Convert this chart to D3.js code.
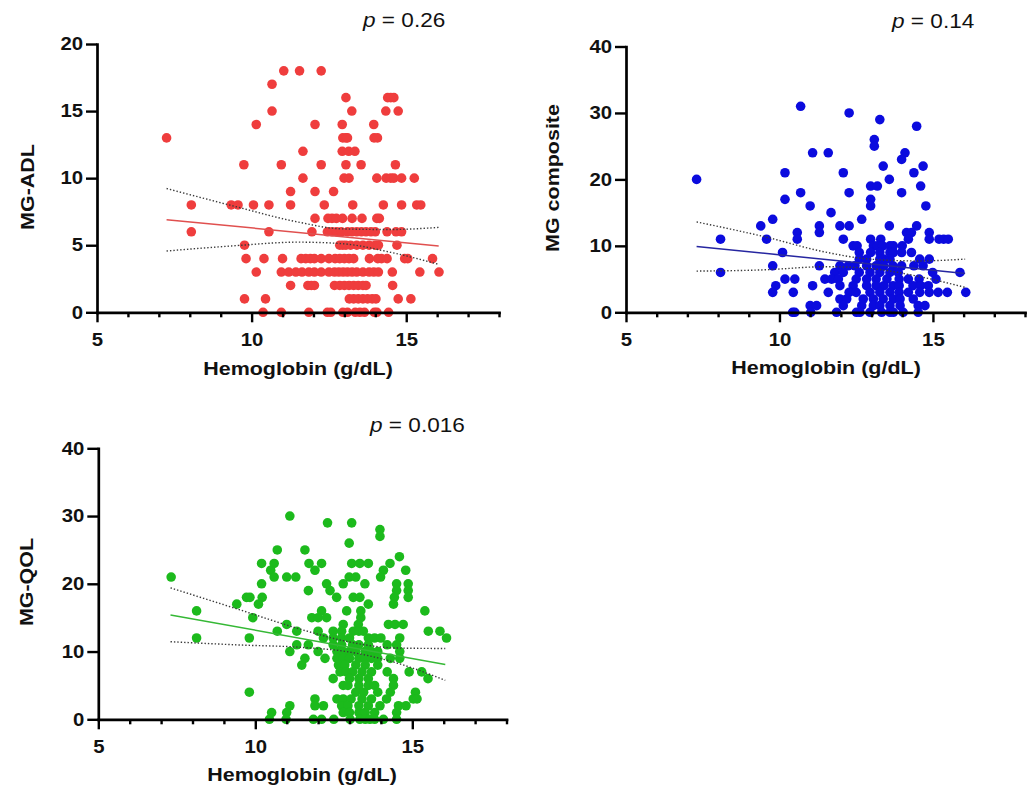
<!DOCTYPE html>
<html>
<head>
<meta charset="utf-8">
<script src="https://cdn.jsdelivr.net/npm/d3@7"></script>
<style>
  body { margin: 0; background: #fff; }
  svg { display: block; font-family: "Liberation Sans", Arial, sans-serif; }
</style>
</head>
<body>
<svg width="1032" height="788"></svg>
<script>
// x axis is the same for all three panels
var hbDomain = [5, 18];
var hbMajorTicks = [5, 10, 15];
var hbMinorTicks = [6, 7, 8, 9, 11, 12, 13, 14, 16, 17, 18];

// each row: [score, [hemoglobin values]]
var adlRows = [
  [18, [11.04, 11.55, 12.25]],
  [17, [10.66]],
  [16, [13.05, 14.4, 14.5, 14.6]],
  [15, [10.66, 13.24, 14.34, 14.74]],
  [14, [10.15, 12.05, 12.93, 13.95]],
  [13, [7.25, 12.95, 13.05, 13.1, 13.96, 14.07]],
  [12, [11.66, 12.93, 13.14, 13.34]],
  [11, [9.75, 10.96, 12.25, 13.05, 13.54, 14.65]],
  [10, [11.66, 12.99, 13.15, 14.05, 14.35, 14.5, 14.6, 14.85, 15.26]],
  [9, [11.26, 12.05, 12.65]],
  [8, [8.05, 9.34, 9.56, 10.06, 10.56, 11.26, 12.35, 13.27, 14.26, 14.85, 15.34, 15.47]],
  [7, [12.05, 12.47, 12.6, 12.74, 12.94, 13.25, 13.57, 14.05, 14.13]],
  [6, [8.05, 10.56, 11.95, 12.45, 12.6, 12.75, 12.9, 13.1, 13.25, 13.4, 13.55, 13.7, 13.86, 14.0, 14.38, 14.67, 14.85]],
  [5, [9.77, 12.85, 12.95, 13.05, 13.2, 13.4, 13.6, 13.8, 14.0, 14.1, 14.7]],
  [4, [9.82, 10.4, 11.0, 11.6, 11.75, 11.9, 12.03, 12.25, 12.5, 12.7, 12.85, 13.0, 13.15, 13.3, 13.81, 14.08, 14.2, 14.38, 14.95, 15.05, 15.85]],
  [3, [10.15, 10.96, 11.2, 11.43, 11.63, 11.85, 12.03, 12.25, 12.5, 12.68, 12.82, 12.96, 13.1, 13.25, 13.4, 13.6, 13.8, 13.95, 14.1, 14.55, 15.44, 16.06]],
  [2, [11.26, 11.82, 11.93, 12.03, 12.68, 12.85, 13.0, 13.15, 13.3, 13.45, 13.6, 13.7, 14.56]],
  [1, [9.77, 10.45, 13.16, 13.3, 13.45, 13.6, 13.75, 13.9, 14.02, 14.74, 15.15]],
  [0, [10.37, 10.96, 11.85, 12.45, 12.56, 12.95, 13.1, 13.35, 13.5, 13.65, 13.97, 14.05, 14.43]]
];

var compositeRows = [
  [31, [10.69]],
  [30, [12.27]],
  [29, [13.27]],
  [28, [14.47]],
  [26, [13.09]],
  [25, [13.09]],
  [24, [11.08, 11.59, 14.09]],
  [23, [13.98]],
  [22, [13.38, 14.68]],
  [21, [10.18, 12.08, 14.38]],
  [20, [7.3, 13.58]],
  [19, [12.97, 13.19, 14.6]],
  [18, [10.69, 12.27, 13.98]],
  [17, [10.18, 12.97]],
  [16, [11.0, 12.97, 14.77]],
  [15, [11.68]],
  [14, [9.78, 12.68]],
  [13, [9.39, 11.3, 11.97, 12.27, 13.58, 14.47]],
  [12, [10.58, 11.3, 14.14, 14.3, 14.88]],
  [11, [8.08, 9.58, 10.58, 12.08, 12.97, 13.3, 14.2, 14.88, 15.2, 15.35, 15.5]],
  [10, [12.4, 12.53, 13.06, 13.19, 13.36, 13.6, 13.71, 14.0]],
  [9, [10.1, 12.6, 12.97, 13.27, 13.6, 13.71, 13.98, 14.3]],
  [8, [12.6, 12.84, 13.27, 13.4, 13.6, 14.57, 14.88]],
  [7, [9.78, 11.3, 11.97, 12.24, 12.46, 12.84, 13.15, 13.4, 13.7, 13.98, 14.38, 14.68]],
  [6, [8.08, 11.8, 12.08, 12.6, 12.95, 13.27, 13.6, 13.87, 14.99, 15.88]],
  [5, [10.18, 10.5, 11.48, 11.7, 11.92, 12.5, 12.84, 13.15, 13.5, 13.9, 14.2, 14.55, 15.1]],
  [4, [9.88, 11.08, 11.97, 12.4, 12.84, 13.15, 13.4, 13.7, 13.9, 14.35, 14.6, 14.85]],
  [3, [9.78, 10.45, 11.59, 12.27, 12.5, 12.95, 13.27, 13.6, 13.9, 14.2, 14.57, 14.88, 15.17, 15.47, 16.07]],
  [2, [11.97, 12.19, 12.73, 13.06, 13.38, 13.71, 13.93, 14.36]],
  [1, [11.0, 11.21, 12.08, 12.68, 13.06, 13.27, 13.6, 13.93, 14.52, 14.74]],
  [0, [10.43, 10.5, 11.02, 11.86, 12.51, 12.62, 12.95, 13.33, 13.6, 13.71, 14.03, 14.52]]
];

var qolRows = [
  [30, [11.1]],
  [29, [12.3, 13.07]],
  [28, [13.97]],
  [27, [13.97]],
  [26, [12.99]],
  [25, [10.7, 11.58]],
  [24, [14.59]],
  [23, [10.2, 10.6, 11.71, 12.11, 13.07, 13.33, 13.6, 14.29]],
  [22, [10.49, 11.9, 14.08, 14.79]],
  [21, [7.32, 10.6, 11.0, 11.29, 12.99, 13.2, 13.99]],
  [20, [10.2, 12.27, 12.8, 13.49, 14.5, 14.87]],
  [19, [11.69, 12.38, 14.5, 14.87]],
  [18, [9.72, 9.83, 10.22, 12.59, 13.12, 13.33, 14.43, 14.87]],
  [17, [9.41, 10.1, 13.6, 14.4]],
  [16, [8.13, 12.11, 12.91, 13.36, 15.4]],
  [15, [9.92, 11.8, 12.0, 12.27, 13.36]],
  [14, [11.0, 12.8, 13.28, 14.24, 14.45, 14.71]],
  [13, [10.7, 11.32, 12.0, 12.48, 12.75, 13.12, 13.3, 13.44, 15.51, 15.88]],
  [12, [8.13, 9.81, 12.17, 12.48, 12.75, 13.0, 13.6, 13.8, 14.0, 14.6, 16.09]],
  [11, [11.32, 11.69, 12.48, 12.75, 13.1, 13.3, 13.6, 14.2, 14.5]],
  [10, [11.1, 12.0, 12.6, 12.8, 13.0, 13.2, 13.5, 13.7, 13.9, 14.6]],
  [9, [11.58, 12.22, 12.6, 12.8, 13.0, 13.3, 13.5, 13.7, 13.9, 14.3, 14.6]],
  [8, [11.48, 12.65, 12.85, 13.2, 13.5, 13.9]],
  [7, [12.7, 12.9, 13.1, 13.4, 13.7, 14.2, 14.9, 15.3]],
  [6, [12.48, 13.0, 13.3, 13.6, 14.4, 15.5]],
  [5, [12.8, 12.95, 13.3, 13.6, 13.8, 14.4]],
  [4, [9.81, 13.2, 13.45, 13.9, 14.3, 15.1]],
  [3, [11.9, 12.6, 12.8, 13.05, 13.4, 13.7, 14.18, 15.03, 15.15]],
  [2, [11.1, 11.9, 12.17, 12.75, 12.95, 13.3, 13.6, 13.97, 14.56, 14.8]],
  [1, [10.52, 11.0, 12.8, 13.0, 13.3, 13.5, 13.8, 14.5]],
  [0, [10.45, 10.98, 11.85, 12.11, 12.5, 13.02, 13.33, 13.5, 13.65, 13.8, 14.08, 14.5]]
];

// regression lines and 95% bands as [hb, score]
var adlFit = [[7.25, 6.9], [16.05, 4.95]];
var adlUpper = [[7.25, 9.23], [9.5, 7.87], [11.5, 6.73], [12.9, 6.22], [14.5, 6.17], [16.05, 6.33]];
var adlLower = [[7.25, 4.57], [9.5, 4.97], [11.5, 5.23], [12.9, 5.12], [14.5, 4.47], [16.05, 3.57]];

var compositeFit = [[7.3, 9.9], [16.05, 5.85]];
var compositeUpper = [[7.3, 13.6], [9.5, 11.39], [11.5, 9.06], [12.9, 8.02], [14.5, 7.73], [16.05, 8.0]];
var compositeLower = [[7.3, 6.2], [9.5, 6.39], [11.5, 6.86], [12.9, 6.62], [14.5, 5.43], [16.05, 3.75]];

var qolFit = [[7.3, 15.4], [16.05, 8.1]];
var qolUpper = [[7.3, 19.4], [9.5, 16.17], [11.5, 13.21], [12.9, 11.5], [14.5, 10.52], [16.05, 10.45]];
var qolLower = [[7.3, 11.45], [9.5, 10.97], [11.5, 10.61], [12.9, 10.0], [14.5, 8.32], [16.05, 5.75]];

var adlTicks = [0, 5, 10, 15, 20];
var scoreTicks = [0, 10, 20, 30, 40];

var pValues = ["0.26", "0.14", "0.016"];

var svg = d3.select("svg");
var stretch = 1.13;

var panels = [
  { rows: adlRows, yMax: 20, yTicks: adlTicks, fit: adlFit, upper: adlUpper, lower: adlLower,
    dot: "#ef3d3d", line: "#e0504f", title: "MG-ADL", p: pValues[0],
    left: 97, right: 499, top: 44, bottom: 312.3,
    yTitle: [27, 187], xTitle: [298, 375], pPos: [363, 26.5] },
  { rows: compositeRows, yMax: 40, yTicks: scoreTicks, fit: compositeFit, upper: compositeUpper, lower: compositeLower,
    dot: "#0b0bde", line: "#2626a0", title: "MG composite", p: pValues[1],
    left: 626, right: 1025, top: 46.5, bottom: 312.3,
    yTitle: [552, 178], xTitle: [826, 374], pPos: [892, 28] },
  { rows: qolRows, yMax: 40, yTicks: scoreTicks, fit: qolFit, upper: qolUpper, lower: qolLower,
    dot: "#1cba1c", line: "#35b835", title: "MG-QOL", p: pValues[2],
    left: 98.3, right: 506.5, top: 448.3, bottom: 719.3,
    yTitle: [26, 582], xTitle: [302, 781], pPos: [370, 431.5] }
];

panels.forEach(drawPanel);

function drawPanel(p) {
  var x = d3.scaleLinear().domain(hbDomain).range([p.left, p.right]);
  var y = d3.scaleLinear().domain([0, p.yMax]).range([p.bottom, p.top]);
  var g = svg.append("g");

  var pts = p.rows.flatMap(function(r) {
    return r[1].map(function(hb) { return { hb: hb, score: r[0] }; });
  });

  g.append("g").selectAll("circle")
    .data(pts)
    .join("circle")
      .attr("cx", function(d) { return x(d.hb); })
      .attr("cy", function(d) { return y(d.score); })
      .attr("r", 4.8)
      .attr("fill", p.dot);

  var straight = d3.line().x(function(d) { return x(d[0]); }).y(function(d) { return y(d[1]); });
  var smooth = d3.line().x(function(d) { return x(d[0]); }).y(function(d) { return y(d[1]); })
    .curve(d3.curveMonotoneX);

  [p.upper, p.lower].forEach(function(band) {
    g.append("path")
      .attr("d", smooth(band))
      .attr("fill", "none")
      .attr("stroke", "#3a3a3a")
      .attr("stroke-width", 1.4)
      .attr("stroke-dasharray", "1.4,2");
  });

  g.append("path")
    .attr("d", straight(p.fit))
    .attr("fill", "none")
    .attr("stroke", p.line)
    .attr("stroke-width", 1.5);

  // axes
  var yAxis = g.append("g")
    .attr("transform", "translate(" + p.left + ",0)")
    .call(d3.axisLeft(y).tickValues(p.yTicks).tickSize(11).tickSizeOuter(0));
  yAxis.selectAll("text").attr("x", -14 / stretch).attr("transform", "scale(" + stretch + ",1)");

  var xMinor = g.append("g")
    .attr("transform", "translate(0," + p.bottom + ")")
    .call(d3.axisBottom(x).tickValues(hbMinorTicks).tickSize(5).tickFormat(""));
  xMinor.select(".domain").remove();

  var xAxis = g.append("g")
    .attr("transform", "translate(0," + p.bottom + ")")
    .call(d3.axisBottom(x).tickValues(hbMajorTicks).tickSize(10).tickPadding(11).tickSizeOuter(0));
  xAxis.selectAll("text").attr("transform", "scale(" + stretch + ",1)");

  [yAxis, xAxis, xMinor].forEach(function(a) {
    a.attr("font-family", null).attr("font-size", null);
    a.select(".domain").attr("stroke", "#000").attr("stroke-width", 2.7).attr("stroke-linecap", "square");
    a.selectAll(".tick line").attr("stroke", "#000").attr("stroke-width", 2.4);
    a.selectAll("text").attr("fill", "#111").attr("font-size", 18).attr("font-weight", "bold");
  });

  // titles
  g.append("text")
    .attr("transform", "translate(" + p.xTitle[0] + "," + p.xTitle[1] + ") scale(" + stretch + ",1)")
    .attr("text-anchor", "middle")
    .attr("font-size", 19)
    .attr("font-weight", "bold")
    .attr("fill", "#111")
    .text("Hemoglobin (g/dL)");

  g.append("text")
    .attr("transform", "translate(" + p.yTitle[0] + "," + p.yTitle[1] + ") rotate(-90) scale(" + stretch + ",1)")
    .attr("text-anchor", "middle")
    .attr("dy", "0.36em")
    .attr("font-size", 19)
    .attr("font-weight", "bold")
    .attr("fill", "#111")
    .text(p.title);

  var pt = g.append("text")
    .attr("transform", "translate(" + p.pPos[0] + "," + p.pPos[1] + ") scale(" + stretch + ",1)")
    .attr("font-size", 20)
    .attr("fill", "#111");
  pt.append("tspan").attr("font-style", "italic").text("p");
  pt.append("tspan").text(" = " + p.p);
}
</script>
</body>
</html>
